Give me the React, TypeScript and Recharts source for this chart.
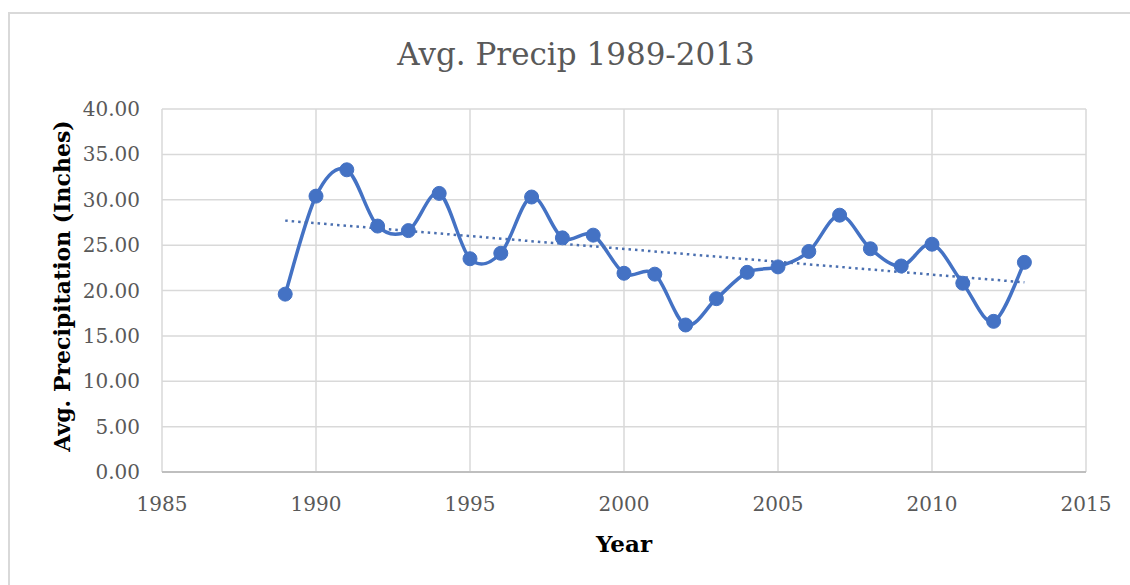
import React from 'react';
import { ComposedChart, Line, XAxis, YAxis, CartesianGrid } from 'recharts';

const years = [
  1989, 1990, 1991, 1992, 1993, 1994, 1995, 1996, 1997, 1998, 1999, 2000, 2001,
  2002, 2003, 2004, 2005, 2006, 2007, 2008, 2009, 2010, 2011, 2012, 2013,
];
const precip = [
  19.6, 30.4, 33.3, 27.1, 26.6, 30.7, 23.5, 24.1, 30.3, 25.8, 26.1, 21.9, 21.8,
  16.2, 19.1, 22.0, 22.6, 24.3, 28.3, 24.6, 22.7, 25.1, 20.8, 16.6, 23.1,
];
const trendYears = [1989, 2013];
const trendValues = [27.7, 20.9];

const xTicks = [1985, 1990, 1995, 2000, 2005, 2010, 2015];
const yTicks = [0, 5, 10, 15, 20, 25, 30, 35, 40];

const mainData = years.map((year, i) => ({ year, precip: precip[i] }));
const trendData = trendYears.map((year, i) => ({ year, trend: trendValues[i] }));

const serif = "'DejaVu Serif', 'Liberation Serif', serif";
const blue = '#4472C4';
const tickStyle = { fill: '#595959', fontSize: 20, fontFamily: serif };

// excel-style smoothed line (catmull-rom through the points)
const excelSmooth = (context: any) => {
  let pts: number[][] = [];
  return {
    areaStart() {},
    areaEnd() {},
    lineStart() {
      pts = [];
    },
    point(x: number, y: number) {
      pts.push([+x, +y]);
    },
    lineEnd() {
      if (!pts.length) return;
      context.moveTo(pts[0][0], pts[0][1]);
      for (let i = 0; i < pts.length - 1; i++) {
        const p0 = pts[Math.max(i - 1, 0)];
        const p1 = pts[i];
        const p2 = pts[i + 1];
        const p3 = pts[Math.min(i + 2, pts.length - 1)];
        context.bezierCurveTo(
          p1[0] + (p2[0] - p0[0]) / 6,
          p1[1] + (p2[1] - p0[1]) / 6,
          p2[0] - (p3[0] - p1[0]) / 6,
          p2[1] - (p3[1] - p1[1]) / 6,
          p2[0],
          p2[1]
        );
      }
    },
  };
};

export default function App() {
  return (
    <div style={{ position: 'absolute', left: 0, top: 0, width: 1130, height: 585, background: '#fff', overflow: 'hidden' }}>
      <div
        style={{
          position: 'absolute',
          left: 8,
          top: 12,
          width: 1200,
          height: 700,
          borderLeft: '2px solid #d9d9d9',
          borderTop: '2px solid #d9d9d9',
        }}
      />
      <div
        style={{
          position: 'absolute',
          left: 0,
          width: 1152,
          top: 36,
          lineHeight: 'normal',
          textAlign: 'center',
          fontFamily: serif,
          fontSize: 31,
          color: '#595959',
        }}
      >
        Avg. Precip 1989-2013
      </div>
      <div
        style={{
          position: 'absolute',
          left: 162,
          width: 924,
          top: 530,
          textAlign: 'center',
          fontFamily: serif,
          fontWeight: 'bold',
          fontSize: 23,
          color: '#000',
        }}
      >
        Year
      </div>
      <div
        style={{
          position: 'absolute',
          left: 62 - 200,
          top: 286 - 15,
          width: 400,
          height: 30,
          lineHeight: '30px',
          textAlign: 'center',
          transform: 'rotate(-90deg)',
          fontFamily: serif,
          fontWeight: 'bold',
          fontSize: 22,
          color: '#000',
        }}
      >
        Avg. Precipitation (Inches)
      </div>
      <div style={{ position: 'absolute', left: 0, top: 0 }}>
        <ComposedChart width={1130} height={585} margin={{ top: 109, right: 44, bottom: 0, left: 62 }}>
          <CartesianGrid stroke="#d9d9d9" strokeWidth={1.5} />
          <XAxis
            dataKey="year"
            type="number"
            domain={[1985, 2015]}
            ticks={xTicks}
            allowDuplicatedCategory={false}
            stroke="#bfbfbf"
            strokeWidth={2}
            tickLine={false}
            tick={tickStyle}
            tickMargin={19}
            height={113}
          />
          <YAxis
            type="number"
            domain={[0, 40]}
            ticks={yTicks}
            axisLine={false}
            tickLine={false}
            tick={tickStyle}
            tickMargin={16}
            width={100}
            tickFormatter={(v: number) => v.toFixed(2)}
          />
          <Line
            data={mainData}
            dataKey="precip"
            type={excelSmooth as any}
            stroke={blue}
            strokeWidth={3.5}
            dot={{ r: 7, fill: blue, stroke: blue, strokeWidth: 1 }}
            activeDot={false}
            isAnimationActive={false}
          />
          <Line
            data={trendData}
            dataKey="trend"
            type="linear"
            stroke="#4a6fb0"
            strokeWidth={2.5}
            strokeDasharray="2.5 4"
            dot={false}
            activeDot={false}
            isAnimationActive={false}
          />
        </ComposedChart>
      </div>
    </div>
  );
}
